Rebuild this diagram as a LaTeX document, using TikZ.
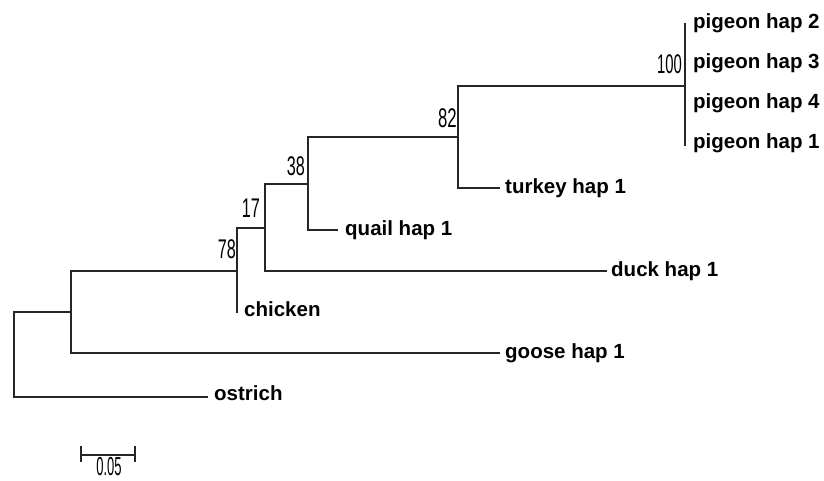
\documentclass[tikz,border=0pt]{standalone}
\usepackage{fontspec}
\setmainfont{Liberation Sans}
\begin{document}
\begin{tikzpicture}[x=1pt,y=-1pt,
  br/.style={line width=1.4pt,color=black!85},
  leaf/.style={anchor=west,inner sep=0pt,font=\fontsize{20.5}{20.5}\selectfont\bfseries,text height=14.8pt,text depth=4.3pt},
  boot/.style={anchor=east,inner sep=0pt,font=\fontsize{27}{27}\selectfont}]
\useasboundingbox (0,0) rectangle (824,481);
% internal nodes
\coordinate (R) at (14,355);
\coordinate (A) at (71,312);
\coordinate (B) at (237,271);
\coordinate (C) at (265,228);
\coordinate (D) at (308,184);
\coordinate (E) at (458,137);
\coordinate (F) at (685,86);
% leaves
\node[leaf] (p2) at (693,23) {pigeon hap 2};
\node[leaf] (p3) at (693,63) {pigeon hap 3};
\node[leaf] (p4) at (693,103) {pigeon hap 4};
\node[leaf] (p1) at (693,143) {pigeon hap 1};
\node[leaf] (turkey) at (505,188) {turkey hap 1};
\node[leaf] (quail) at (345,230) {quail hap 1};
\node[leaf] (duck) at (611,271) {duck hap 1};
\node[leaf] (chicken) at (244,311) {chicken};
\node[leaf] (goose) at (505,353) {goose hap 1};
\node[leaf] (ostrich) at (214,395) {ostrich};
\coordinate (p2t) at (685,23);
\coordinate (p1t) at (685,146);
\coordinate (cht) at (237,313);
\coordinate (ost) at (208,397);
% branches
\draw[br] (R) |- (A);
\draw[br] (R) |- (ost);
\draw[br] (A) |- (B);
\draw[br] (A) |- ([xshift=-5pt]goose.west);
\draw[br] (B) |- (C);
\draw[br] (B) -- (cht);
\draw[br] (C) |- (D);
\draw[br] (C) |- ([xshift=-4pt]duck.west);
\draw[br] (D) |- (E);
\draw[br] (D) |- ([xshift=-7pt]quail.west);
\draw[br] (E) |- (F);
\draw[br] (E) |- ([xshift=-5pt]turkey.west);
\draw[br] (p2t) -- (p1t);
% bootstrap values
\node[boot] (b100) at (682,64) {\scalebox{0.55}[1]{100}};
\node[boot] (b82) at (457,118) {\scalebox{0.62}[1]{82}};
\node[boot] (b38) at (305,166) {\scalebox{0.6}[1]{38}};
\node[boot] (b17) at (260,208) {\scalebox{0.6}[1]{17}};
\node[boot] (b78) at (236,249) {\scalebox{0.6}[1]{78}};
% scale bar
\coordinate (s1) at (81,455);
\coordinate (s2) at (135,455);
\draw[br,line width=1.2pt] (s1) -- (s2);
\draw[br,line width=1.2pt] ([yshift=-7pt]s1) -- ([yshift=9pt]s1);
\draw[br,line width=1.2pt] ([yshift=-7pt]s2) -- ([yshift=9pt]s2);
\node[inner sep=0pt,font=\fontsize{26}{26}\selectfont] (sl) at (109,467) {\scalebox{0.5}[1]{0.05}};
\end{tikzpicture}
\end{document}
